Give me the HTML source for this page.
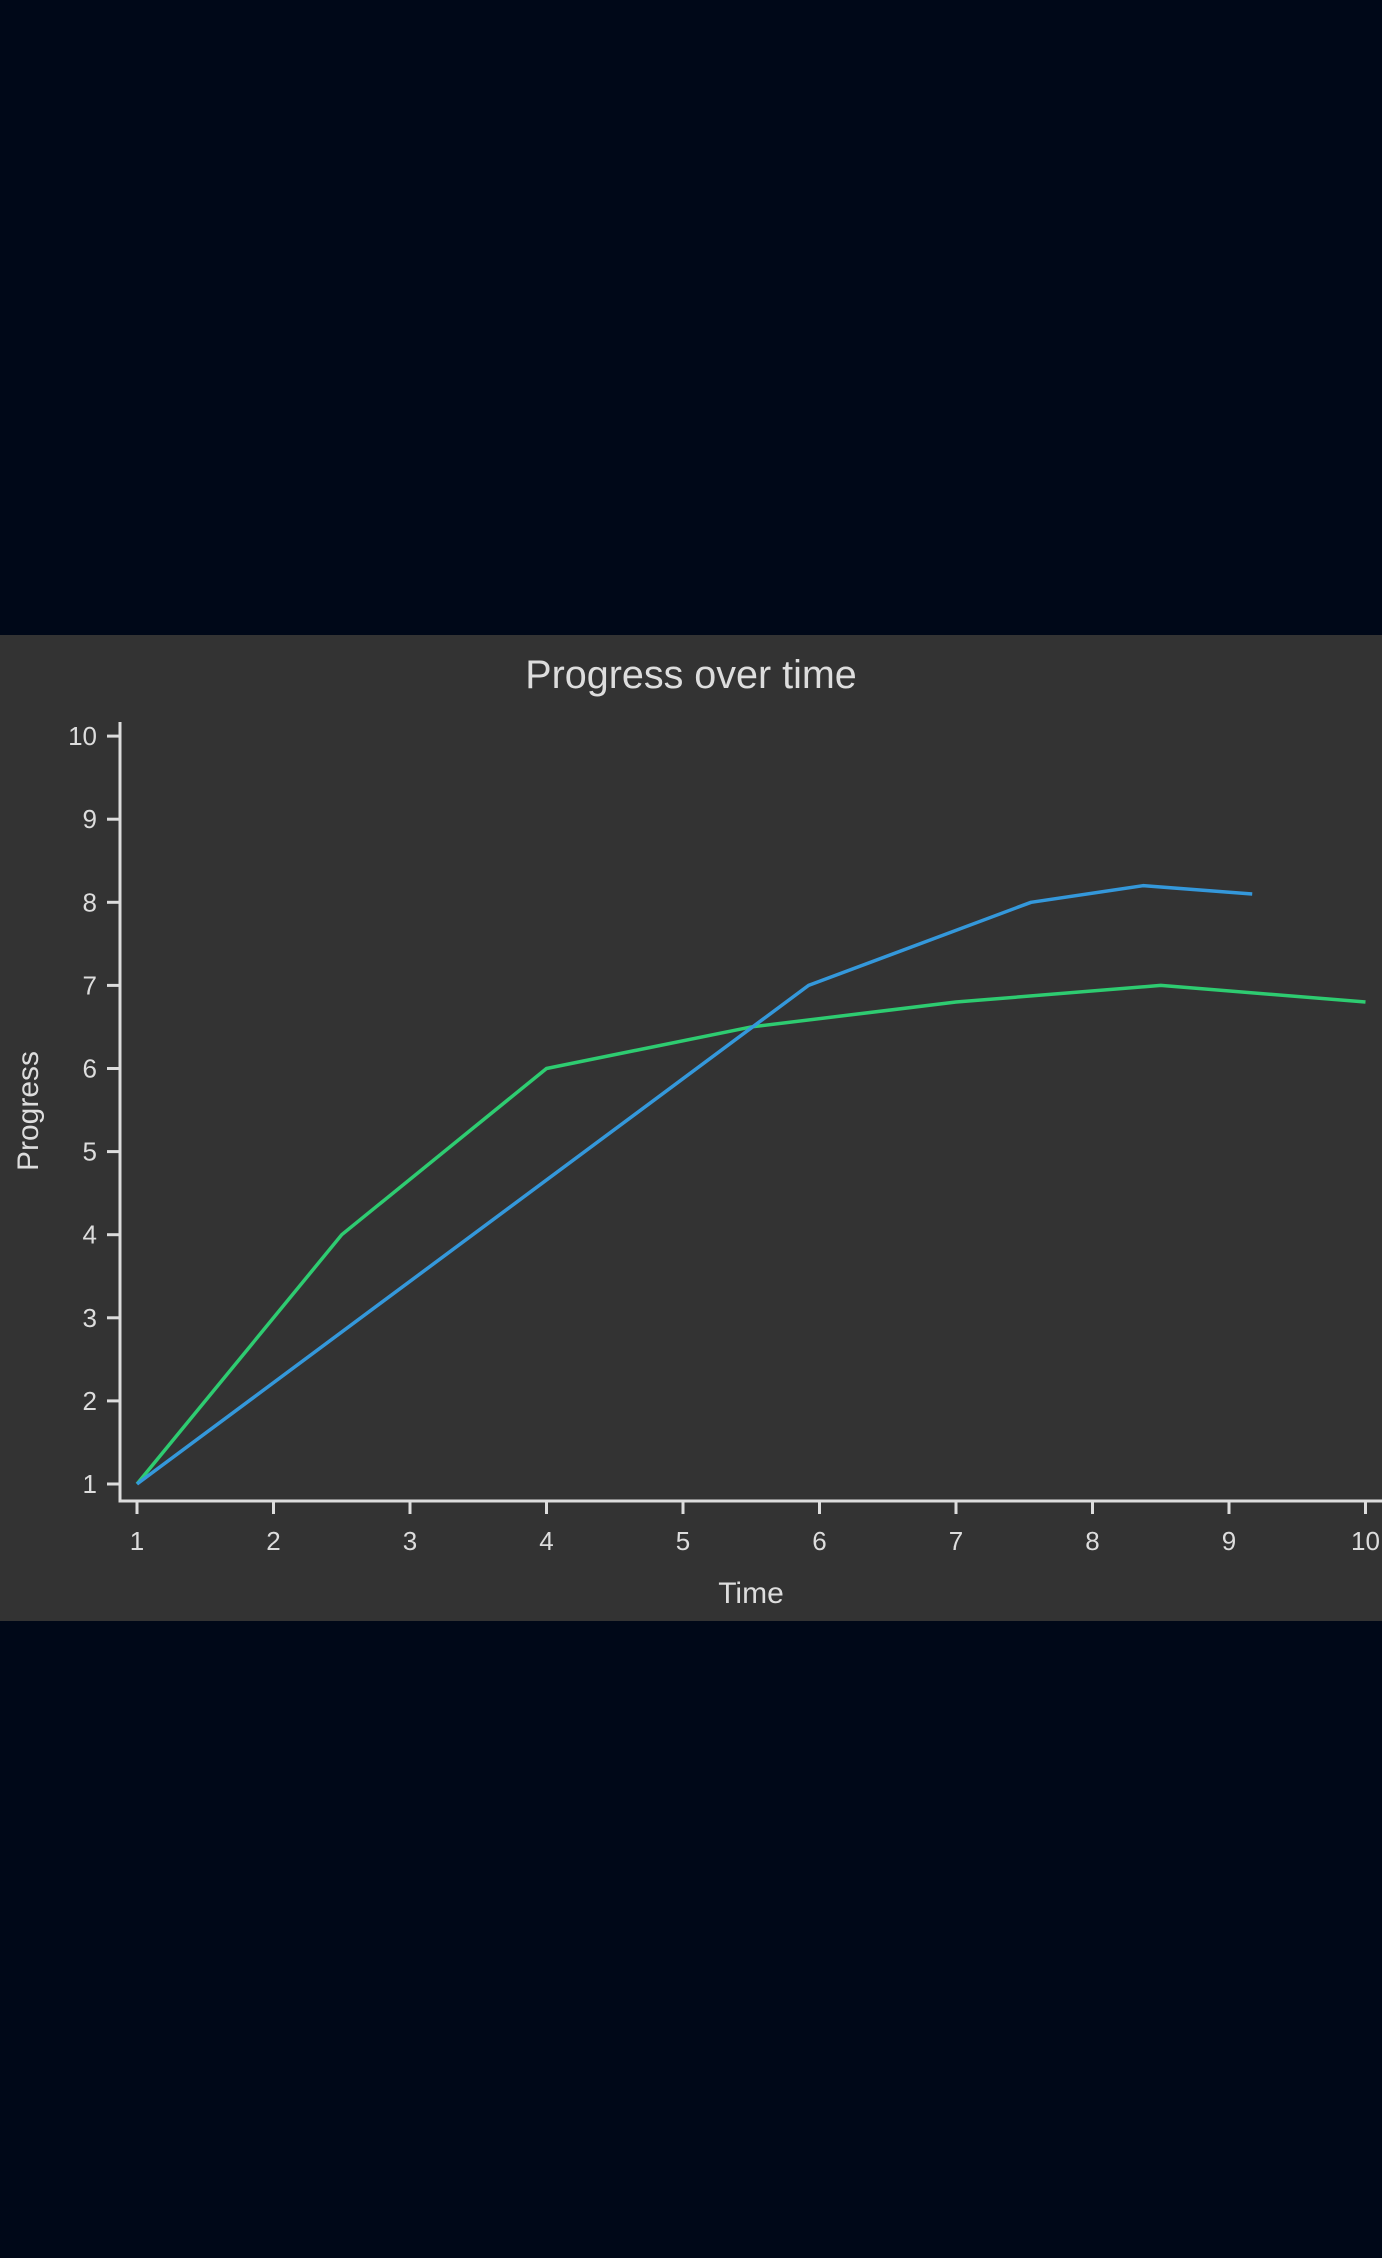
<!DOCTYPE html>
<html><head><meta charset="utf-8"><style>
html,body{margin:0;padding:0;background:#000818;}
body{width:1382px;height:2258px;position:relative;overflow:hidden;font-family:"Liberation Sans",sans-serif;}
#panel{position:absolute;left:0;top:635px;width:1382px;height:986px;background:#333333;}
svg{position:absolute;left:0;top:0;}
</style></head><body>
<div id="panel"></div>
<svg id="chart" width="1382" height="2258"></svg>
<script>
const yTicks=[1,2,3,4,5,6,7,8,9,10];
const xTicks=[1,2,3,4,5,6,7,8,9,10];
const seriesBlueX=[1,5.92,7.55,8.37,9.17];
const seriesBlueY=[1,7,8,8.2,8.1];
const seriesGreenX=[1,2.5,4,5.5,7,8.5,10];
const seriesGreenY=[1,4,6,6.5,6.8,7,6.8];

const NS="http://www.w3.org/2000/svg";
const svg=document.getElementById('chart');
const xS=v=>137+(v-1)*136.5;
const yS=v=>1484-(v-1)*83.1;
function mk(t,a,txt){const e=document.createElementNS(NS,t);for(const k in a)e.setAttribute(k,a[k]);if(txt!==undefined)e.textContent=txt;svg.appendChild(e);return e;}
const C='#dddddd';
let e;
e=mk('text',{x:691,y:688,'text-anchor':'middle','font-size':39.5,fill:C},'Progress over time');


e=mk('line',{x1:120,y1:722,x2:120,y2:1502,stroke:C,'stroke-width':3});


e=mk('line',{x1:118.5,y1:1501,x2:1382,y2:1501,stroke:C,'stroke-width':3});


yTicks.forEach(v=>{
  let t=mk('line',{x1:107,y1:yS(v),x2:120,y2:yS(v),stroke:C,'stroke-width':3});
  
  
  let l=mk('text',{x:97,y:yS(v)+9,'text-anchor':'end','font-size':26,fill:C},String(v));
  
  
});
xTicks.forEach(v=>{
  let t=mk('line',{x1:xS(v),y1:1501,x2:xS(v),y2:1514,stroke:C,'stroke-width':3});
  
  
  let l=mk('text',{x:xS(v),y:1550,'text-anchor':'middle','font-size':26,fill:C},String(v));
  
  
});
e=mk('text',{x:751,y:1603,'text-anchor':'middle','font-size':30,fill:C},'Time');


e=mk('text',{x:0,y:0,'text-anchor':'middle','font-size':30,fill:C,transform:'translate(38,1111) rotate(-90)'},'Progress');


function pts(xs,ys){return xs.map((x,i)=>xS(x)+','+yS(ys[i])).join(' ');}
e=mk('polyline',{points:pts(seriesGreenX,seriesGreenY),fill:'none',stroke:'#2ecc71','stroke-width':3.5,'stroke-linejoin':'round'});


e=mk('polyline',{points:pts(seriesBlueX,seriesBlueY),fill:'none',stroke:'#3498db','stroke-width':3.5,'stroke-linejoin':'round'});


</script>
</body></html>
